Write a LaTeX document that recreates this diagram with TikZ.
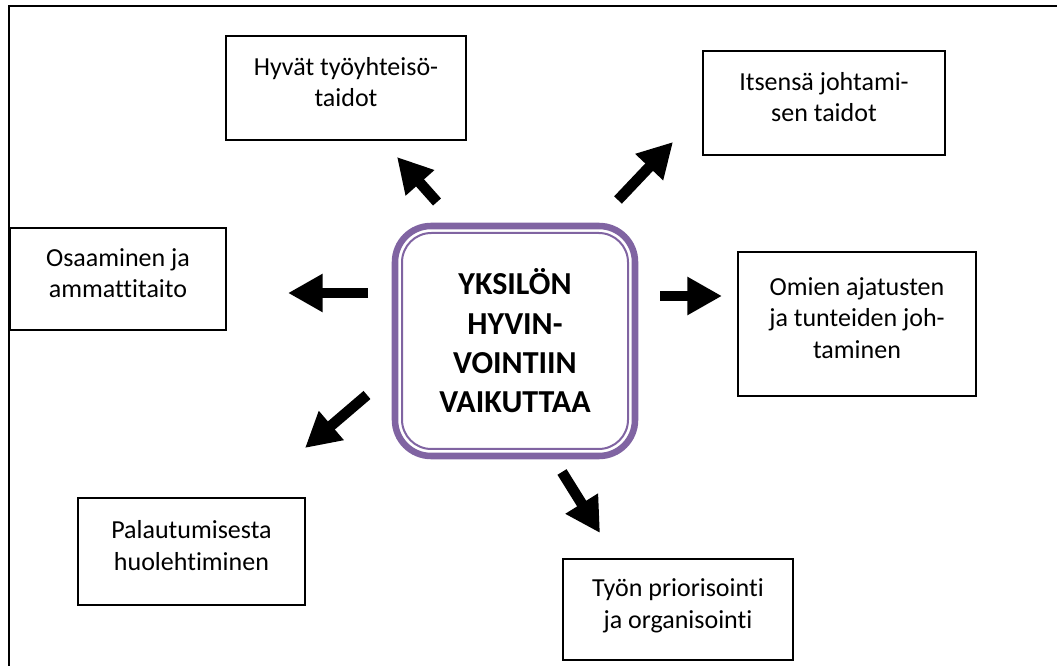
\documentclass[tikz,border=0pt]{standalone}
\usepackage{fontspec}
\setmainfont{Carlito}[Ligatures=NoCommon]
\usetikzlibrary{arrows.meta}

\definecolor{hyvinvointi}{RGB}{128,100,162}

\tikzset{
  laatikko/.style={draw=black, line width=1.2pt, align=center, inner sep=0pt,
    text depth=9pt, font=\fontsize{19.5}{23.6}\selectfont},
  ydin/.style={draw=hyvinvointi, line width=4.9pt, rounded corners=27pt, align=center, inner sep=0pt,
    font=\bfseries\fontsize{24}{29.5}\selectfont},
  ydinsisa/.style={draw=hyvinvointi, line width=1.5pt, rounded corners=22pt, inner sep=0pt},
  nuoli/.style={line width=8pt, -{Triangle[width=27pt,length=26pt]}}
}

\begin{document}
\begin{tikzpicture}[x=0.75pt, y=-0.75pt]

        \useasboundingbox (0,0) rectangle (1057,666);
        \draw[line width=1.5pt] (9,690) -- (9,6) -- (1080,6);

            \node[ydin, minimum width=180pt, minimum height=172.5pt] (keskus) at (515,341) {YKSILÖN\\HYVIN-\\VOINTIIN\\VAIKUTTAA};
            \node[ydinsisa, minimum width=169.5pt, minimum height=162pt] (keskussisa) at (515,341) {};

            \node[laatikko, minimum width=180pt, minimum height=78pt] (tyoyhteiso) at (346,88) {Hyvät työyhteisö-\\taidot};
            \node[laatikko, minimum width=181.5pt, minimum height=78pt] (johtaminen) at (824,103) {Itsensä johtami-\\sen taidot};
            \node[laatikko, minimum width=162pt, minimum height=76.5pt] (osaaminen) at (118,279) {Osaaminen ja\\ammattitaito};
            \node[laatikko, minimum width=178.5pt, minimum height=108pt] (ajatukset) at (857,324) {Omien ajatusten\\ja tunteiden joh-\\taminen};
            \node[laatikko, minimum width=170pt, minimum height=80pt] (palautuminen) at (191.5,551.5) {Palautumisesta\\huolehtiminen};
            \node[laatikko, minimum width=172.5pt, minimum height=76pt] (priorisointi) at (678,609.5) {Työn priorisointi\\ja organisointi};

            \coordinate (n1a) at (437,202);
            \coordinate (n1b) at (397,157);
            \coordinate (n2a) at (618,200);
            \coordinate (n2b) at (673,142);
            \coordinate (n3a) at (368,293);
            \coordinate (n3b) at (288,293);
            \coordinate (n4a) at (660,296);
            \coordinate (n4b) at (722,296);
            \coordinate (n5a) at (367,395);
            \coordinate (n5b) at (305,448);
            \coordinate (n6a) at (562,472);
            \coordinate (n6b) at (600,533);

            \draw[nuoli] (n1a) -- (n1b);
            \draw[nuoli] (n2a) -- (n2b);
            \draw[nuoli] (n3a) -- (n3b);
            \draw[nuoli] (n4a) -- (n4b);
            \draw[nuoli] (n5a) -- (n5b);
            \draw[nuoli] (n6a) -- (n6b);

\end{tikzpicture}
\end{document}
